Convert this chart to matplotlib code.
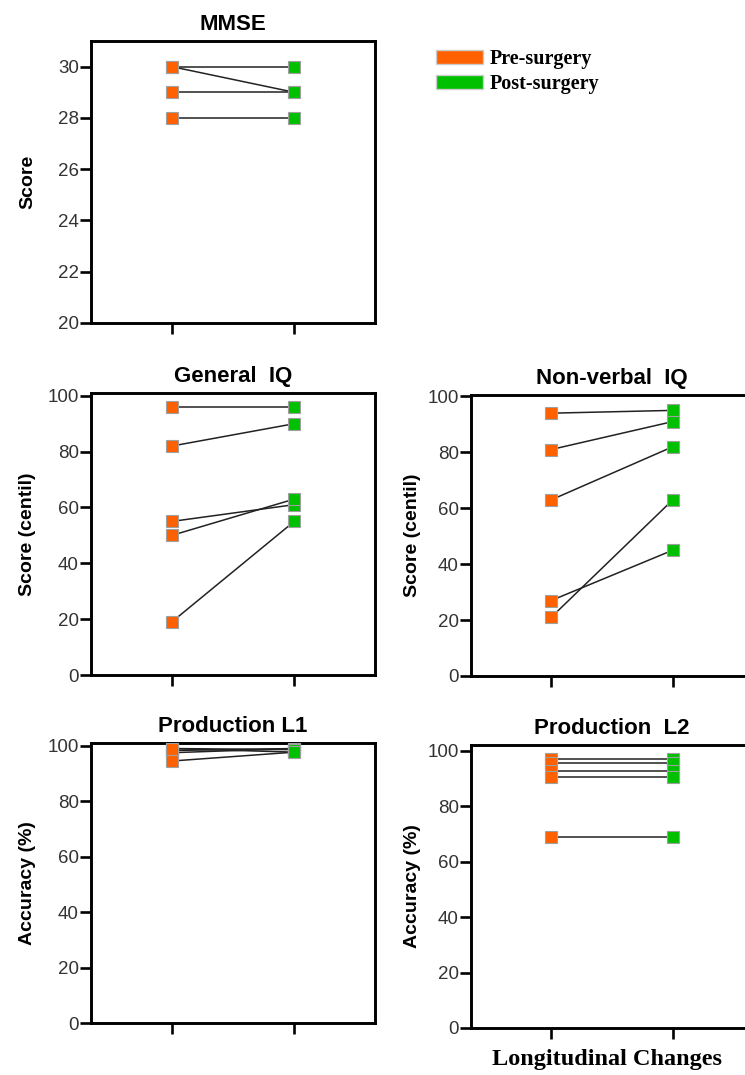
import numpy as np
import matplotlib.pyplot as plt
from matplotlib.patches import Patch

plt.rcParams['font.family'] = ['Liberation Sans', 'DejaVu Sans']

W, H = 745, 1075

# data (pre / post surgery per subject)
mmse_pre = [30, 30, 29, 28]
mmse_post = [30, 29, 29, 28]
giq_pre = [96, 82, 55, 50, 19]
giq_post = [96, 90, 61, 63, 55]
nviq_pre = [94, 81, 63, 27, 21]
nviq_post = [95, 91, 82, 45, 63]
l1_pre = [99, 98.3, 97.5, 99, 94.5]
l1_post = [97.7, 99, 99, 98.6, 97.7]
l2_pre = [97, 95.5, 92.5, 90.5, 69]
l2_post = [97, 95.5, 92.5, 90.5, 69]

pre_color = '#FF6000'
post_color = '#00C000'


def box(l, t, r, b):
    # pixel box -> figure fraction
    return [l / W, 1 - b / H, (r - l) / W, (b - t) / H]


fig = plt.figure(figsize=(W / 100, H / 100), dpi=100)

panels = [
    ('MMSE', 'Score', mmse_pre, mmse_post, (20, 31), np.arange(20, 31, 2), box(91, 41, 375, 323), 55),
    ('General  IQ', 'Score (centil)', giq_pre, giq_post, (0, 101), np.arange(0, 101, 20), box(91, 393, 375, 675), 55),
    ('Non-verbal  IQ', 'Score (centil)', nviq_pre, nviq_post, (0, 100.5), np.arange(0, 101, 20), box(471, 395, 753, 676), 50),
    ('Production L1', 'Accuracy (%)', l1_pre, l1_post, (0, 101), np.arange(0, 101, 20), box(91, 743, 375, 1023), 55),
    ('Production  L2', 'Accuracy (%)', l2_pre, l2_post, (0, 102), np.arange(0, 101, 20), box(471, 745, 753, 1028), 50),
]

axes = []
for title, ylab, pre, post, ylim, yt, rect, lab_off in panels:
    ax = fig.add_axes(rect)
    for a, b in zip(pre, post):
        ax.plot([1, 2], [a, b], color='#222222', lw=1.1, zorder=2)
    ax.plot(np.ones(len(pre)), pre, 's', ms=8.5, mfc=pre_color, mec='#a0a0a0', mew=0.8, ls='none', zorder=3)
    ax.plot(np.full(len(post), 2), post, 's', ms=8.5, mfc=post_color, mec='#a0a0a0', mew=0.8, ls='none', zorder=3)
    ax.set_xlim(0.34, 2.66)
    ax.set_ylim(*ylim)
    ax.set_yticks(yt)
    ax.set_xticks([1, 2])
    ax.set_xticklabels(['', ''])
    for s in ax.spines.values():
        s.set_linewidth(2.1)
        s.set_color('black')
    ax.tick_params(length=7.7, width=1.9, labelsize=13.5, labelcolor='#333333', pad=1)
    ax.set_title(title, fontsize=16, fontweight='bold', pad=8)
    ax.set_ylabel(ylab, fontsize=14, fontweight='bold')
    # ylabels sit at a fixed distance from the spine
    ax.yaxis.set_label_coords(-lab_off / (rect[2] * W), 0.5)
    axes.append(ax)

axes[4].set_xlabel('Longitudinal Changes', family='Liberation Serif', fontweight='bold',
                   fontsize=17.5)
axes[4].xaxis.set_label_coords(0.482, -0.074)
axes[4].xaxis.label.set_va('top')

handles = [Patch(fc=pre_color, ec='#cccccc'), Patch(fc=post_color, ec='#cccccc')]
fig.legend(handles, ['Pre-surgery', 'Post-surgery'], loc='upper left',
           bbox_to_anchor=(436 / W, 1 - 49 / H), frameon=False, borderpad=0,
           borderaxespad=0, handlelength=2.35, handleheight=0.65, handletextpad=0.3,
           labelspacing=0.25,
           prop={'family': 'Liberation Serif', 'weight': 'bold', 'size': 14.5})

fig.savefig('out.png', dpi=100)
